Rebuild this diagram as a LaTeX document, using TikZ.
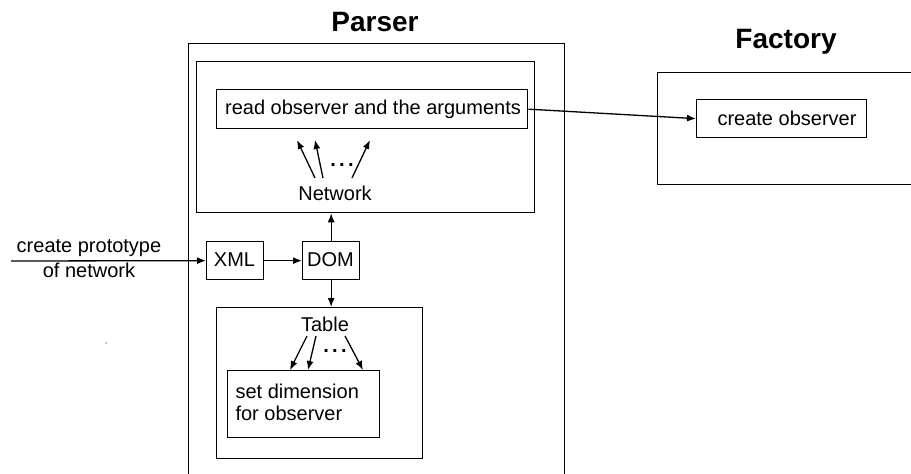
\documentclass[tikz,border=0pt]{standalone}
\usepackage{fontspec}
\setmainfont{Liberation Sans}
\usetikzlibrary{arrows.meta}
\begin{document}
\begin{tikzpicture}[x=1pt,y=-1pt,
  every node/.style={font=\fontsize{20}{22}\selectfont},
  box/.style={draw,line width=1.3pt,inner sep=0pt,anchor=north west},
  title/.style={font=\fontsize{28}{30}\selectfont\bfseries},
  arr/.style={line width=1.3pt,-{Latex[length=9pt,width=7pt]}},
  dots/.style={font=\fontsize{20}{22}\selectfont\bfseries,inner sep=0pt,anchor=base}]
\useasboundingbox (0,0) rectangle (911,474);
\clip (0,0) rectangle (911,474);
% containers
\node[box,minimum width=376pt,minimum height=460pt] (parser) at (188,43) {};
\node[title] (ptitle) at (375,22) {Parser};
\node[box,minimum width=280pt,minimum height=112pt] (factory) at (657,72) {};
\node[title] (ftitle) at (786,42) {Factory};
\node[box,minimum width=338pt,minimum height=151pt] (net) at (196,61) {};
\node[box,minimum width=311pt,minimum height=39pt] (read) at (216,89) {};
\node (readtxt) at (373,109) {read observer and the arguments};
\node[box,minimum width=170pt,minimum height=38pt] (create) at (696,99) {};
\node (createtxt) at (787,118) {create observer};
\node[box,minimum width=57pt,minimum height=38pt] (xml) at (206,241) {};
\node (xmltxt) at (234.5,260) {XML};
\node[box,minimum width=57pt,minimum height=38pt] (dom) at (302,241) {};
\node (domtxt) at (330.5,260) {DOM};
\node[box,minimum width=206pt,minimum height=151pt] (table) at (216,307) {};
\node[box,minimum width=152pt,minimum height=67pt] (setdim) at (227,370) {};
\node[anchor=west,align=left,font=\fontsize{20}{22}\selectfont] (settxt) at (232,402) {set dimension\\for observer};
\node (network) at (335,193) {Network};
\node (tablelbl) at (325,324) {Table};
\node[align=center,font=\fontsize{20}{25}\selectfont] (input) at (89,259) {create prototype\\of network};
\node[dots] (ndots) at (342,166) {.\,.\,.};
\node[dots] (tdots) at (335,352) {.\,.\,.};
\fill (106,343) circle (0.7pt);
% connectors
\coordinate (start) at (11,261);
\draw[arr] (start) -- (xml.west);
\draw[arr] (xml.east) -- (dom.west);
\draw[arr] (dom.north) -- (dom.north |- net.south);
\draw[arr] (dom.south) -- (dom.south |- table.north);
\draw[arr] (read.east) -- (create.west);
% network arrows
\coordinate (n1a) at (315,178); \coordinate (n1b) at (297,140);
\coordinate (n2a) at (323,178); \coordinate (n2b) at (315,140);
\coordinate (n3a) at (352,178); \coordinate (n3b) at (370,140);
\draw[arr] (n1a) -- (n1b);
\draw[arr] (n2a) -- (n2b);
\draw[arr] (n3a) -- (n3b);
% table arrows
\coordinate (t1a) at (307,336); \coordinate (t1b) at (290,370);
\coordinate (t2a) at (316,336); \coordinate (t2b) at (308,370);
\coordinate (t3a) at (345,336); \coordinate (t3b) at (363,370);
\draw[arr] (t1a) -- (t1b);
\draw[arr] (t2a) -- (t2b);
\draw[arr] (t3a) -- (t3b);
\end{tikzpicture}
\end{document}
